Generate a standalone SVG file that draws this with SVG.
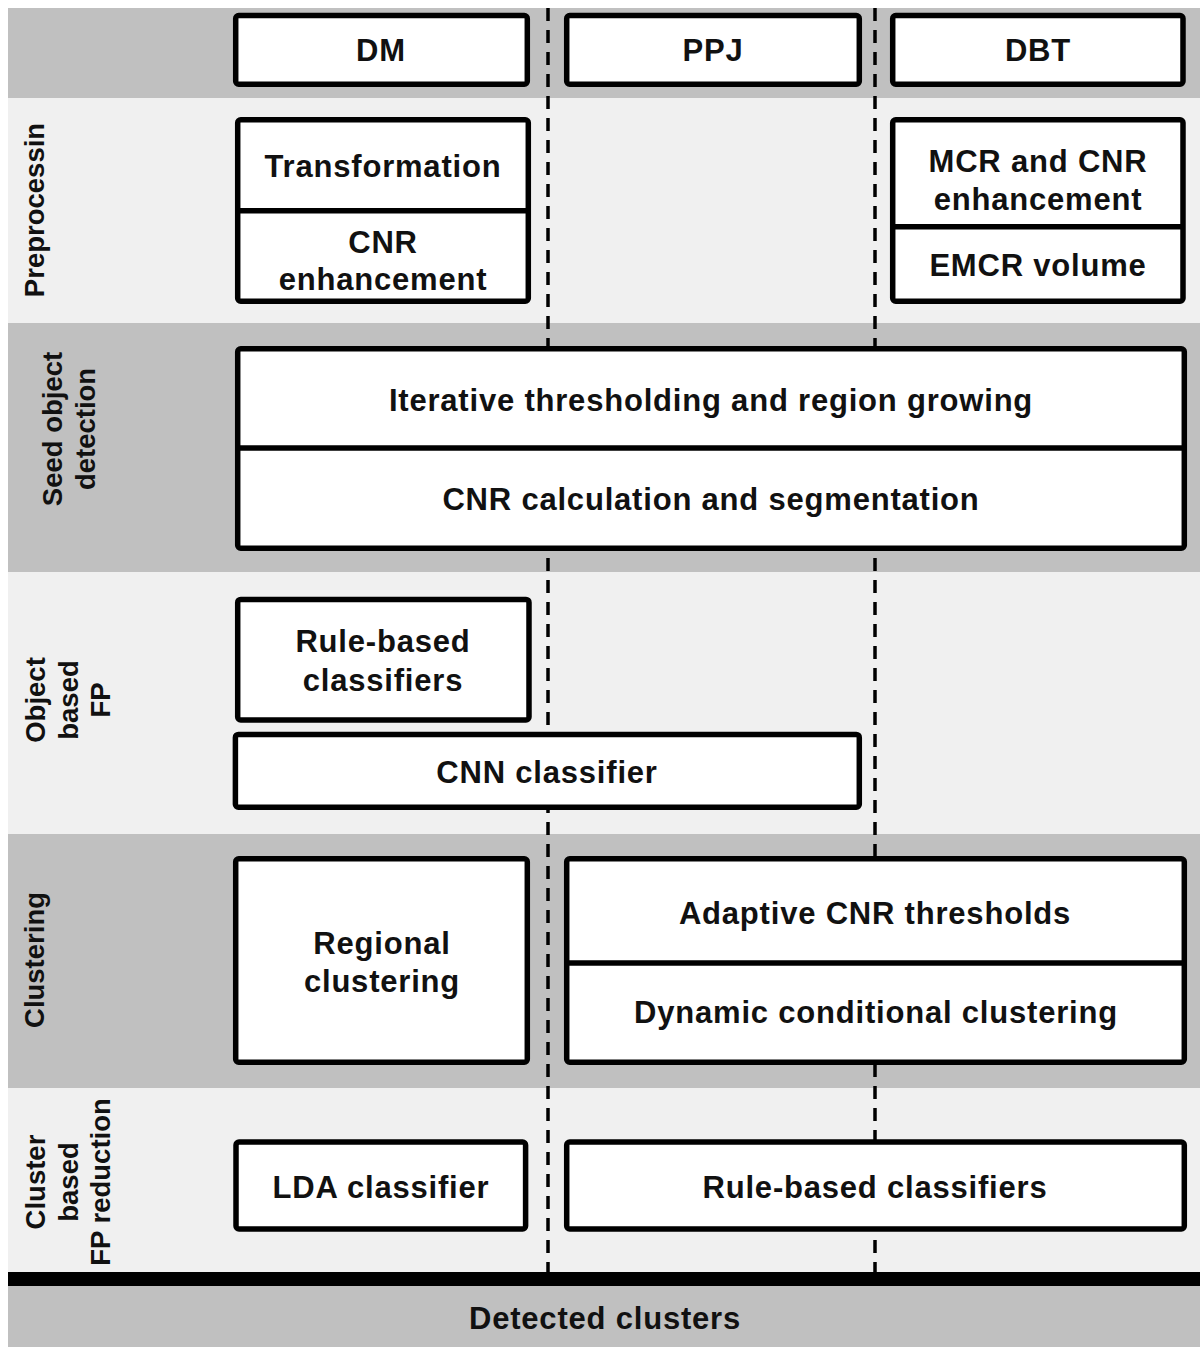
<svg xmlns="http://www.w3.org/2000/svg" width="1200" height="1347" viewBox="0 0 1200 1347">
<style>
.bd{fill:#c0c0c0}
.bl{fill:#f0f0f0}
.box{fill:#fff;stroke:#000;stroke-width:5.5}
.div{stroke:#000;stroke-width:5.5}
.t{font-family:"Liberation Sans",Arial,sans-serif;font-weight:bold;font-size:31px;letter-spacing:0.8px;fill:#111;text-anchor:middle}
.s{font-family:"Liberation Sans",Arial,sans-serif;font-weight:bold;font-size:27.5px;fill:#111;text-anchor:middle}
.dash{stroke:#000;stroke-width:3.5;stroke-dasharray:13 9;fill:none}
</style>
<rect width="1200" height="1347" fill="#fff"/>
<g id="bands">
<rect class="bd" x="8" y="8" width="1192" height="90"/>
<rect class="bl" x="8" y="98" width="1192" height="225"/>
<rect class="bd" x="8" y="323" width="1192" height="249"/>
<rect class="bl" x="8" y="572" width="1192" height="262"/>
<rect class="bd" x="8" y="834" width="1192" height="254"/>
<rect class="bl" x="8" y="1088" width="1192" height="184"/>
<rect fill="#000" x="8" y="1272" width="1192" height="14"/>
<rect class="bd" x="8" y="1286" width="1192" height="61"/>
</g>
<g id="connectors">
<line class="dash" x1="548" y1="8" x2="548" y2="1272"/>
<line class="dash" x1="875" y1="8" x2="875" y2="1272"/>
</g>
<g id="lane-labels">
<text class="s" transform="translate(44,210) rotate(-90)">Preprocessin</text>
<text class="s" transform="translate(62,429) rotate(-90)">Seed object</text>
<text class="s" transform="translate(95,429) rotate(-90)">detection</text>
<text class="s" transform="translate(45,700) rotate(-90)">Object</text>
<text class="s" transform="translate(78,700) rotate(-90)">based</text>
<text class="s" transform="translate(110,700) rotate(-90)">FP</text>
<text class="s" transform="translate(44,960) rotate(-90)">Clustering</text>
<text class="s" transform="translate(45,1182) rotate(-90)">Cluster</text>
<text class="s" transform="translate(78,1182) rotate(-90)">based</text>
<text class="s" transform="translate(110,1182) rotate(-90)">FP reduction</text>
</g>
<g id="dm">
<rect class="box" x="235.7" y="15.5" width="291.6" height="68.8" rx="3"/>
<text class="t" x="381" y="61">DM</text>
</g>
<g id="ppj">
<rect class="box" x="566.7" y="15.5" width="292.6" height="68.8" rx="3"/>
<text class="t" x="713" y="61">PPJ</text>
</g>
<g id="dbt">
<rect class="box" x="892.7" y="15.5" width="290.3" height="68.8" rx="3"/>
<text class="t" x="1038" y="61">DBT</text>
</g>
<g id="dm-preproc">
<rect class="box" x="237.7" y="119.8" width="290.6" height="181.4" rx="3"/>
<line class="div" x1="237.7" y1="210.7" x2="528.3" y2="210.7"/>
<text class="t" x="383" y="177">Transformation</text>
<text class="t" x="383" y="252.5">CNR</text>
<text class="t" x="383" y="290">enhancement</text>
</g>
<g id="dbt-preproc">
<rect class="box" x="892.7" y="119.8" width="290.3" height="181.4" rx="3"/>
<line class="div" x1="892.7" y1="226.7" x2="1183" y2="226.7"/>
<text class="t" x="1038" y="171.5">MCR and CNR</text>
<text class="t" x="1038" y="210">enhancement</text>
<text class="t" x="1038" y="276">EMCR volume</text>
</g>
<g id="seed">
<rect class="box" x="237.7" y="348.7" width="946.6" height="199.6" rx="3"/>
<line class="div" x1="237.7" y1="448" x2="1184.3" y2="448"/>
<text class="t" x="711" y="411">Iterative thresholding and region growing</text>
<text class="t" x="711" y="510">CNR calculation and segmentation</text>
</g>
<g id="rule-obj">
<rect class="box" x="237.7" y="599.4" width="291.3" height="120.6" rx="3"/>
<text class="t" x="383" y="652">Rule-based</text>
<text class="t" x="383" y="691">classifiers</text>
</g>
<g id="cnn">
<rect class="box" x="235.4" y="734.4" width="623.9" height="72.9" rx="3"/>
<text class="t" x="547" y="782.5">CNN classifier</text>
</g>
<g id="regional">
<rect class="box" x="235.7" y="858.7" width="291.6" height="203.6" rx="3"/>
<text class="t" x="382" y="954">Regional</text>
<text class="t" x="382" y="992">clustering</text>
</g>
<g id="adaptive">
<rect class="box" x="566.7" y="858.7" width="617.6" height="203.6" rx="3"/>
<line class="div" x1="566.7" y1="963" x2="1184.3" y2="963"/>
<text class="t" x="875" y="924">Adaptive CNR thresholds</text>
<text class="t" x="876" y="1023">Dynamic conditional clustering</text>
</g>
<g id="lda">
<rect class="box" x="236" y="1142" width="289.6" height="87" rx="3"/>
<text class="t" x="381" y="1198">LDA classifier</text>
</g>
<g id="rule-cluster">
<rect class="box" x="566.7" y="1142" width="617.6" height="87" rx="3"/>
<text class="t" x="875" y="1198">Rule-based classifiers</text>
</g>
<g id="detected">
<text class="t" x="605" y="1329">Detected clusters</text>
</g>
</svg>
